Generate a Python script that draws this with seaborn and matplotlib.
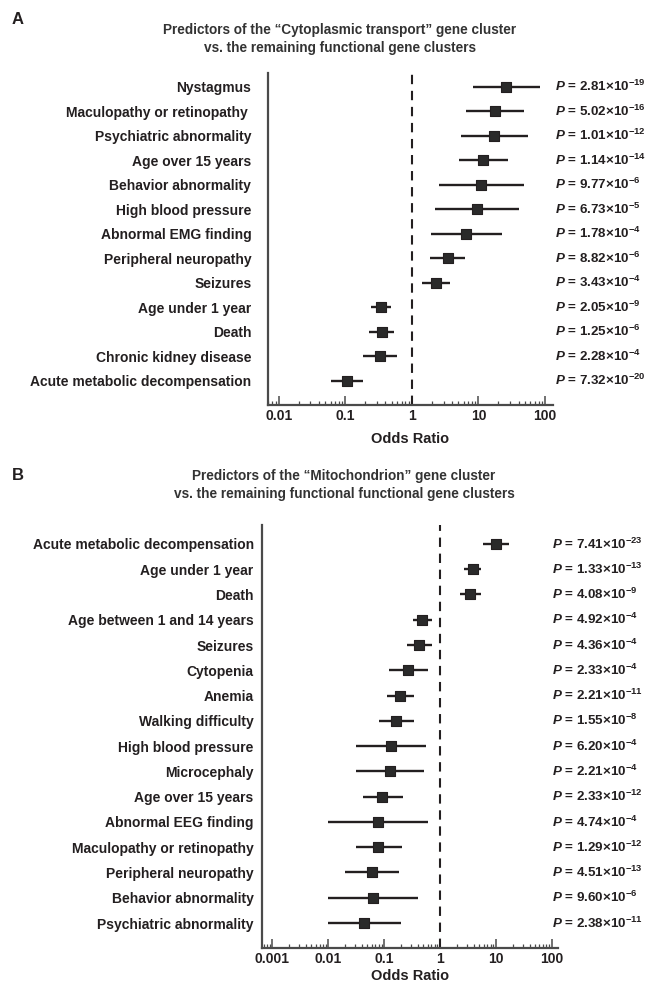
import numpy as np
import pandas as pd
import matplotlib
matplotlib.use("Agg")
import matplotlib.pyplot as plt
import seaborn as sns
from matplotlib.ticker import LogLocator, FixedLocator, NullFormatter

# --- panel A: Cytoplasmic transport ---
a_labels = ["Nystagmus", "Maculopathy or retinopathy ", "Psychiatric abnormality",
            "Age over 15 years", "Behavior abnormality", "High blood pressure",
            "Abnormal EMG finding", "Peripheral neuropathy", "Seizures",
            "Age under 1 year", "Death", "Chronic kidney disease",
            "Acute metabolic decompensation"]
a_or = [26.2, 17.9, 17.3, 11.8, 11.0, 9.5, 6.6, 3.48, 2.3, 0.345, 0.35, 0.333, 0.105]
a_lo = [8.4, 6.5, 5.45, 5.1, 2.6, 2.24, 1.95, 1.88, 1.43, 0.244, 0.228, 0.187, 0.061]
a_hi = [83, 48.9, 55.5, 27.4, 47.7, 40, 22.5, 6.2, 3.68, 0.493, 0.536, 0.607, 0.185]
a_pm = ["2.81", "5.02", "1.01", "1.14", "9.77", "6.73", "1.78", "8.82", "3.43",
        "2.05", "1.25", "2.28", "7.32"]
a_pe = ["19", "16", "12", "14", "6", "5", "4", "6", "4", "9", "6", "4", "20"]

# --- panel B: Mitochondrion ---
b_labels = ["Acute metabolic decompensation", "Age under 1 year", "Death",
            "Age between 1 and 14 years", "Seizures", "Cytopenia", "Anemia",
            "Walking difficulty", "High blood pressure", "Microcephaly",
            "Age over 15 years", "Abnormal EEG finding", "Maculopathy or retinopathy",
            "Peripheral neuropathy", "Behavior abnormality", "Psychiatric abnormality"]
b_or = [10.1, 3.9, 3.49, 0.476, 0.426, 0.267, 0.192, 0.165, 0.133, 0.127,
        0.0927, 0.0776, 0.0785, 0.0606, 0.064, 0.0441]
b_lo = [5.8, 2.72, 2.24, 0.323, 0.257, 0.12, 0.111, 0.082, 0.031, 0.031,
        0.0418, 0.0101, 0.031, 0.0201, 0.01, 0.01]
b_hi = [17.4, 5.5, 5.5, 0.719, 0.719, 0.6, 0.342, 0.342, 0.569, 0.524,
        0.214, 0.6, 0.209, 0.181, 0.404, 0.2]
b_pm = ["7.41", "1.33", "4.08", "4.92", "4.36", "2.33", "2.21", "1.55", "6.20",
        "2.21", "2.33", "4.74", "1.29", "4.51", "9.60", "2.38"]
b_pe = ["23", "13", "9", "4", "4", "4", "11", "8", "4", "4", "12", "4", "12",
        "13", "6", "11"]

sns.set_theme(style="ticks")
plt.rcParams["font.family"] = ["Liberation Sans", "DejaVu Sans"]
plt.rcParams["mathtext.fontset"] = "custom"
plt.rcParams["mathtext.rm"] = "Liberation Sans"
plt.rcParams["mathtext.it"] = "Liberation Sans:italic"
plt.rcParams["mathtext.bf"] = "Liberation Sans:bold"
plt.rcParams["mathtext.bfit"] = "Liberation Sans:italic:bold"

INK = "#231f20"
SPINE = "#4a4a4a"


def forest(ax, labels, odds, lo, hi, pm, pe, xlim, xticks, top_pad, ypad, ptext_x, xlabelpad):
    df = pd.DataFrame({"label": labels, "or": odds, "lo": lo, "hi": hi})
    df["y"] = np.arange(len(df))
    ax.hlines(df["y"], df["lo"], df["hi"], color=INK, lw=1.7, zorder=2)
    sns.scatterplot(data=df, x="or", y="y", marker="s", s=50, color="#2a2a2a",
                    edgecolor=INK, linewidth=0.8, ax=ax, zorder=3, legend=False)
    ax.axvline(1, color=INK, lw=1.5, ls=(0, (4.5, 3.2)), zorder=1)
    ax.set_xscale("log")
    ax.set_xlim(*xlim)
    ax.set_ylim(len(df) - 1 + 1.0, -top_pad)
    ax.set_yticks(df["y"])
    ax.set_yticklabels(df["label"], fontsize=10, fontweight="bold", color=INK)
    ax.tick_params(axis="y", length=0, pad=ypad)
    ax.xaxis.set_major_locator(FixedLocator(xticks))
    ax.set_xticklabels([f"{t:g}" for t in xticks], fontsize=10, fontweight="bold", color=INK)
    ax.xaxis.set_minor_locator(LogLocator(base=10, subs=np.arange(2, 10)))
    ax.xaxis.set_minor_formatter(NullFormatter())
    ax.tick_params(axis="x", which="major", direction="in", length=6.5, width=1.1,
                   color=SPINE, pad=3)
    ax.tick_params(axis="x", which="minor", direction="in", length=3, width=0.9,
                   color=SPINE)
    ax.set_xlabel("Odds Ratio", fontsize=10.5, fontweight="bold", color=INK,
                  labelpad=xlabelpad)
    ax.set_ylabel("")
    sns.despine(ax=ax)
    for s in ["left", "bottom"]:
        ax.spines[s].set_color(SPINE)
        ax.spines[s].set_linewidth(1.6)
    trans = ax.get_yaxis_transform()
    for yy, m, e in zip(df["y"], pm, pe):
        ax.text(ptext_x, yy, r"$\mathbfit{P}$" + f" = {m}\u00d710" + r"$^{\mathbf{-" + e + "}}$",
                transform=trans, ha="left", va="center", fontsize=9.6,
                fontweight="bold", color=INK, clip_on=False)


fig = plt.figure(figsize=(6.48, 9.84), dpi=100)
ax_a = fig.add_axes([0.4136, 0.5881, 0.4398, 0.3374])
ax_b = fig.add_axes([0.4043, 0.0363, 0.4568, 0.4302])

forest(ax_a, a_labels, a_or, a_lo, a_hi, a_pm, a_pe,
       (10 ** -2.161, 10 ** 2.12), [0.01, 0.1, 1, 10, 100],
       0.55, 12, 1.007, 6)
forest(ax_b, b_labels, b_or, b_lo, b_hi, b_pm, b_pe,
       (10 ** -3.184, 10 ** 2.11), [0.001, 0.01, 0.1, 1, 10, 100],
       0.75, 6, 0.98, 1.5)

fig.text(12 / 648, 1 - 20 / 984, "A", fontsize=12, fontweight="bold", color=INK,
         va="center", ha="left")
fig.text(12 / 648, 1 - 476 / 984, "B", fontsize=12, fontweight="bold", color=INK,
         va="center", ha="left")
fig.text(340 / 648, 1 - 39 / 984,
         "Predictors of the \u201cCytoplasmic transport\u201d gene cluster\n"
         "vs. the remaining functional gene clusters",
         ha="center", va="center", fontsize=9.8, fontweight="bold", color="#333333",
         linespacing=1.4)
fig.text(344 / 648, 1 - 485 / 984,
         "Predictors of the \u201cMitochondrion\u201d gene cluster\n"
         "vs. the remaining functional functional gene clusters",
         ha="center", va="center", fontsize=9.8, fontweight="bold", color="#333333",
         linespacing=1.4)

fig.savefig("out.png", dpi=100)
